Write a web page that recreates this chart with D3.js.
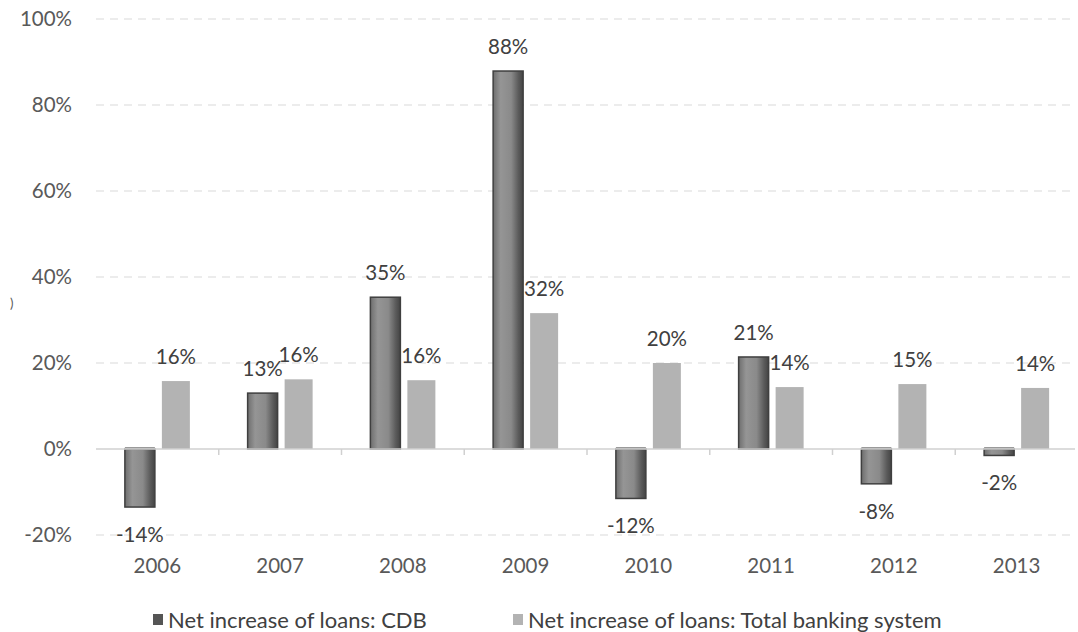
<!DOCTYPE html>
<html>
<head>
<meta charset="utf-8">
<script src="https://cdn.jsdelivr.net/npm/d3@7"></script>
<style>
  body { margin: 0; background: #fff; }
  svg text { font-family: Lato, "Open Sans", sans-serif; }
</style>
</head>
<body>
<svg id="chart" width="1078" height="632"></svg>
<script>
const years = ["2006", "2007", "2008", "2009", "2010", "2011", "2012", "2013"];
const cdbValues = [-13.5, 13.0, 35.3, 87.9, -11.5, 21.4, -8.1, -1.5];
const cdbLabels = ["-14%", "13%", "35%", "88%", "-12%", "21%", "-8%", "-2%"];
const totalValues = [15.8, 16.2, 16.0, 31.6, 20.0, 14.4, 15.1, 14.2];
const totalLabels = ["16%", "16%", "16%", "32%", "20%", "14%", "15%", "14%"];
const yTicks = [-20, 0, 20, 40, 60, 80, 100];
const seriesNames = ["Net increase of loans: CDB", "Net increase of loans: Total banking system"];

const svg = d3.select("#chart");
const plotLeft = 96, plotRight = 1078, plotTop = 19, plotBottom = 535;
const fs = 20.5;

const x = d3.scaleBand().domain(years).range([plotLeft, plotRight]);
const y = d3.scaleLinear().domain([-20, 100]).range([plotBottom, plotTop]);

// gradient for the CDB bars (cylinder look)
const defs = svg.append("defs");
const grad = defs.append("linearGradient").attr("id", "cdbGrad");
grad.append("stop").attr("offset", "0%").attr("stop-color", "#6e6e6e");
grad.append("stop").attr("offset", "25%").attr("stop-color", "#959595");
grad.append("stop").attr("offset", "60%").attr("stop-color", "#8a8a8a");
grad.append("stop").attr("offset", "85%").attr("stop-color", "#5a5a5a");
grad.append("stop").attr("offset", "100%").attr("stop-color", "#444");

// gridlines
svg.append("g").selectAll("line")
  .data(yTicks.filter(d => d !== 0))
  .join("line")
  .attr("x1", plotLeft).attr("x2", plotRight - 3)
  .attr("y1", d => y(d)).attr("y2", d => y(d))
  .attr("stroke", "#d9d9d9")
  .attr("stroke-width", 1)
  .attr("stroke-dasharray", "8,6");

// y labels
svg.append("g").selectAll("text")
  .data(yTicks)
  .join("text")
  .attr("x", 72).attr("y", d => y(d))
  .attr("dy", "0.35em")
  .attr("text-anchor", "end")
  .attr("font-size", fs)
  .attr("fill", "#595959")
  .text(d => d + "%");

// clipped axis title remnant
svg.append("text")
  .attr("x", 10).attr("y", 303)
  .attr("dy", "0.35em")
  .attr("font-size", 13)
  .attr("fill", "#595959")
  .text(")");

const barW = 30, lightW = 28, gap = 7;
const pairW = barW + gap + lightW;
const x0 = d => x(d) + x.bandwidth() / 2 - pairW / 2;

const cdb = years.map((yr, i) => ({ yr, v: cdbValues[i], lab: cdbLabels[i] }));
const tot = years.map((yr, i) => ({ yr, v: totalValues[i], lab: totalLabels[i] }));

// CDB bars
svg.append("g").selectAll("rect")
  .data(cdb)
  .join("rect")
  .attr("x", d => x0(d.yr))
  .attr("y", d => y(Math.max(0, d.v)))
  .attr("width", barW)
  .attr("height", d => Math.abs(y(d.v) - y(0)))
  .attr("fill", "url(#cdbGrad)")
  .attr("stroke", "#3f3f3f")
  .attr("stroke-width", 1.5);

// little cap line on negative bars
svg.append("g").selectAll("line")
  .data(cdb.filter(d => d.v < 0))
  .join("line")
  .attr("x1", d => x0(d.yr)).attr("x2", d => x0(d.yr) + barW)
  .attr("y1", y(0) - 1).attr("y2", y(0) - 1)
  .attr("stroke", "#9a9a9a").attr("stroke-width", 2);

// total bars
svg.append("g").selectAll("rect")
  .data(tot)
  .join("rect")
  .attr("x", d => x0(d.yr) + barW + gap)
  .attr("y", d => y(Math.max(0, d.v)))
  .attr("width", lightW)
  .attr("height", d => Math.abs(y(d.v) - y(0)))
  .attr("fill", "#b3b3b3");

// zero axis line + ticks
svg.append("line")
  .attr("x1", plotLeft).attr("x2", plotRight - 3)
  .attr("y1", y(0)).attr("y2", y(0))
  .attr("stroke", "#d0d0d0").attr("stroke-width", 1.5);
svg.append("g").selectAll("line")
  .data(years.slice(1))
  .join("line")
  .attr("x1", d => x(d)).attr("x2", d => x(d))
  .attr("y1", y(0)).attr("y2", y(0) + 6)
  .attr("stroke", "#d0d0d0").attr("stroke-width", 1.5);

// value labels
svg.append("g").selectAll("text")
  .data(cdb)
  .join("text")
  .attr("x", d => x0(d.yr) + barW / 2)
  .attr("y", d => d.v >= 0 ? y(d.v) - 17 : y(d.v) + 35)
  .attr("text-anchor", "middle")
  .attr("font-size", fs)
  .attr("fill", "#404040")
  .text(d => d.lab);

svg.append("g").selectAll("text")
  .data(tot)
  .join("text")
  .attr("x", d => x0(d.yr) + barW + gap + lightW / 2)
  .attr("y", d => y(d.v) - 17)
  .attr("text-anchor", "middle")
  .attr("font-size", fs)
  .attr("fill", "#404040")
  .text(d => d.lab);

// year labels
svg.append("g").selectAll("text")
  .data(years)
  .join("text")
  .attr("x", d => x(d) + x.bandwidth() / 2)
  .attr("y", 573)
  .attr("text-anchor", "middle")
  .attr("font-size", fs)
  .attr("fill", "#595959")
  .text(d => d);

// legend
const legendX = [153, 513];
const legendFill = ["#555", "#b3b3b3"];
const lg = svg.append("g").selectAll("g")
  .data(seriesNames)
  .join("g")
  .attr("transform", (d, i) => `translate(${legendX[i]},620)`);
lg.append("rect")
  .attr("x", 0).attr("y", -6)
  .attr("width", 10).attr("height", 11)
  .attr("fill", (d, i) => legendFill[i]);
lg.append("text")
  .attr("x", 15).attr("y", 0)
  .attr("dy", "0.35em")
  .attr("font-size", 22)
  .attr("fill", "#404040")
  .text(d => d);
</script>
</body>
</html>
